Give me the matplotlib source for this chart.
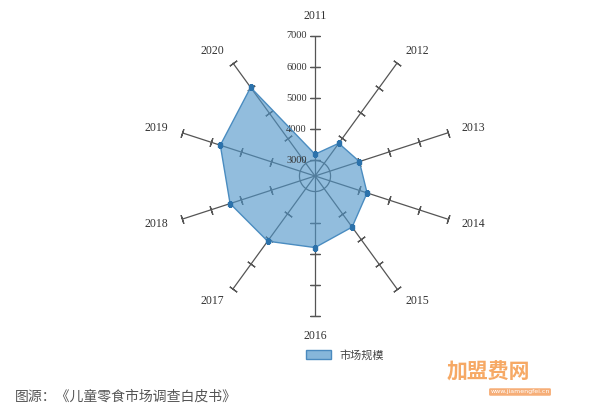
import numpy as np
import matplotlib.pyplot as plt
from matplotlib.patches import Patch

plt.rcParams['font.family'] = ['Liberation Serif', 'DejaVu Sans']

# données
annees = ['2011', '2012', '2013', '2014', '2015', '2016', '2017', '2018', '2019', '2020']
marche = [3200, 3800, 4000, 4260, 4530, 4800, 5090, 5370, 5700, 6020]
graduations = [3000, 4000, 5000, 6000, 7000]
r_min, r_max = 2500, 7000

cjk = ['Noto Sans CJK SC', 'DejaVu Sans']

fig = plt.figure(figsize=(6, 4.16), dpi=100)
W, H = 600, 416
cx, cy, R = 315, 176, 140
ax = fig.add_axes([(cx - R) / W, (H - cy - R) / H, 2 * R / W, 2 * R / H], projection='polar')
ax.set_theta_zero_location('N')
ax.set_theta_direction(-1)
ax.set_rlim(r_min, r_max)
ax.grid(False)
ax.spines['polar'].set_visible(False)
ax.set_xticks([])
ax.set_yticks([])
ax.patch.set_alpha(0)

n = len(annees)
angles = np.arange(n) * 2 * np.pi / n

# axes radiaux + graduations perpendiculaires
gris = '#555555'
r_lab = r_min + 154 / R * (r_max - r_min)
for i, a in enumerate(angles):
    ax.plot([a, a], [r_min, r_max], color=gris, lw=0.9, zorder=1)
    deg = 90 - np.degrees(a)
    ticks = graduations if i == 0 else graduations[1:]
    ax.plot([a] * len(ticks), ticks, linestyle='none', marker=(2, 2, deg),
            markersize=6.5, markeredgewidth=0.9, color=gris, zorder=1, clip_on=False)
    s, c = np.sin(a), np.cos(a)
    ha = 'left' if s > 0.1 else ('right' if s < -0.1 else 'center')
    va = 'bottom' if c > 0.9 else ('top' if c < -0.9 else 'center')
    ax.text(a, r_lab, annees[i], ha=ha, va=va, fontsize=8.5, color='#333333')

# cercle à 3000
th = np.linspace(0, 2 * np.pi, 200)
ax.plot(th, [graduations[0]] * len(th), color=gris, lw=0.9, zorder=1)

# étiquettes de l'axe 2011
for g in graduations:
    ax.annotate(str(g), (0, g), xytext=(-6, 0), textcoords='offset points',
                ha='right', va='center', fontsize=7.5, color='#333333')

# la série (remplissage translucide par-dessus les axes)
a_ferme = np.append(angles, angles[0])
v_ferme = marche + marche[:1]
ax.fill(a_ferme, v_ferme, color='#4f95c8', alpha=0.62, zorder=2, lw=0)
ax.plot(a_ferme, v_ferme, color='#4a8cc0', lw=1, zorder=3)
ax.plot(angles, marche, linestyle='none', marker='s', markersize=3.5,
        color='#2c72ab', zorder=4)

leg = fig.legend(handles=[Patch(facecolor='#86b6da', edgecolor='#4a8abf', label='市场规模')],
                 loc='center', bbox_to_anchor=(345 / W, 1 - 355 / H), frameon=False,
                 prop={'family': cjk, 'size': 8}, handlelength=2.2, handleheight=0.9)
for t in leg.get_texts():
    t.set_color('#444444')

fig.text(15 / W, 1 - 397 / H, '图源：《儿童零食市场调查白皮书》', family=cjk,
         fontsize=10, color='#555555', ha='left', va='center')

# filigrane
fig.text(488 / W, 1 - 372 / H, '加盟费网', family=cjk, fontsize=15, fontweight='bold',
         color='#f59a4a', ha='center', va='center', alpha=0.85)
fig.text(520 / W, 1 - 392 / H, 'www.jiamengfei.cn', family=['DejaVu Sans'], fontsize=4.5,
         color='white', ha='center', va='center',
         bbox=dict(boxstyle='round,pad=0.2', fc='#f5a060', ec='none', alpha=0.85))

fig.savefig('out.png', dpi=100, facecolor='white')
